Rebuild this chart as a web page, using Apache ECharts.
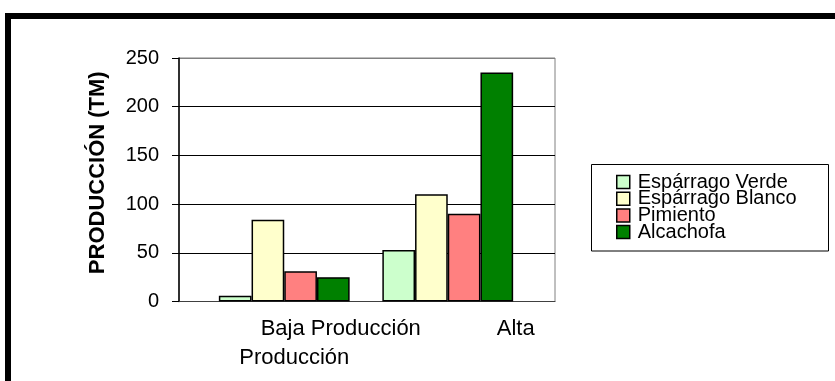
<!DOCTYPE html>
<html><head><meta charset="utf-8">
<script src="https://cdn.jsdelivr.net/npm/echarts@6/dist/echarts.min.js"></script>
<style>html,body{margin:0;padding:0;background:#fff}#c{width:835px;height:381px}</style>
</head><body><div id="c"></div>
<script>
const categories = ['Baja Producción', 'Alta Producción'];
const seriesNames = ['Espárrago Verde', 'Espárrago Blanco', 'Pimiento', 'Alcachofa'];
const verde = [6, 53];
const blanco = [84, 110];
const pimiento = [31, 90];
const alcachofa = [25, 235];
const yTicks = [0, 50, 100, 150, 200, 250];
const yTitle = 'PRODUCCIÓN (TM)';
const colors = ['#CCFFCC', '#FFFFCC', '#FF8080', '#008000'];
const seriesData = [verde, blanco, pimiento, alcachofa];

const FONT = 'Liberation Sans, Arial, sans-serif';
const chart = echarts.init(document.getElementById('c'), null, {renderer: 'canvas'});

const series = seriesNames.map((n, i) => ({
  name: n, type: 'bar', xAxisIndex: 1, yAxisIndex: 1,
  data: seriesData[i], barGap: '0%', barCategoryGap: '20%',
  itemStyle: {color: colors[i], borderColor: '#000', borderWidth: 1.5},
  emphasis: {disabled: true}, animation: false
}));

chart.setOption({
  animation: false,
  backgroundColor: '#fff',
  grid: [
    {left: 179, top: 58, width: 376, height: 243.5, show: true, borderColor: '#808080', borderWidth: 1, backgroundColor: '#fff'},
    {left: 202.5, top: 58, width: 327, height: 243.5}
  ],
  xAxis: [
    {type: 'category', gridIndex: 0, data: categories,
     axisLine: {show: true, lineStyle: {color: '#404040', width: 1}},
     axisTick: {show: false}, axisLabel: {show: false}, splitLine: {show: false}},
    {type: 'category', gridIndex: 1, data: categories,
     axisLine: {show: false}, axisTick: {show: false}, splitLine: {show: false},
     axisLabel: {
       show: true, interval: 0, margin: 13, color: '#000', fontFamily: FONT, fontSize: 22, lineHeight: 29,
       formatter: function (v, idx) {
         if (idx === 0) return '{a|' + v + '}';
         const parts = v.split(' ');
         return '{b|' + parts[0] + '}\n{c|' + parts.slice(1).join(' ') + '}';
       },
       rich: {
         a: {fontFamily: FONT, fontSize: 22, lineHeight: 29, color: '#000', padding: [0, 0, 0, 113]},
         b: {fontFamily: FONT, fontSize: 22, lineHeight: 29, color: '#000', padding: [0, 0, 0, 136]},
         c: {fontFamily: FONT, fontSize: 22, lineHeight: 29, color: '#000', padding: [0, 307, 0, 0]}
       }
     }}
  ],
  yAxis: [
    {type: 'value', gridIndex: 0, min: yTicks[0], max: yTicks[yTicks.length - 1], interval: yTicks[1] - yTicks[0],
     name: yTitle, nameLocation: 'middle', nameRotate: 90, nameGap: 70,
     nameTextStyle: {fontFamily: FONT, fontSize: 22, fontWeight: 'bold', color: '#000', padding: [0, 0, 0, 14]},
     axisLine: {show: true, lineStyle: {color: '#000', width: 1.5}},
     axisTick: {show: true, length: 7, lineStyle: {color: '#000', width: 1}},
     axisLabel: {color: '#000', fontFamily: FONT, fontSize: 20, margin: 20},
     splitLine: {show: true, lineStyle: {color: ['#000', '#000', '#000', '#000', '#000', '#808080'], width: 1}}},
    {type: 'value', gridIndex: 1, min: yTicks[0], max: yTicks[yTicks.length - 1], interval: yTicks[1] - yTicks[0], show: false,
     splitLine: {show: false}}
  ],
  legend: {
    data: seriesNames, orient: 'vertical', left: 616, top: 172, padding: 0, itemGap: -3.3,
    itemWidth: 13, itemHeight: 13, icon: 'rect',
    itemStyle: {borderColor: '#000', borderWidth: 1.5},
    textStyle: {fontFamily: FONT, fontSize: 20, color: '#000', lineHeight: 17, padding: [0, 0, 0, 3]},
    selectedMode: false
  },
  graphic: [
    {type: 'rect', shape: {x: 8, y: 16, width: 900, height: 500}, style: {fill: 'none', stroke: '#000', lineWidth: 6}, silent: true},
    {type: 'rect', shape: {x: 591.5, y: 164.5, width: 237, height: 86.5}, style: {fill: 'none', stroke: '#000', lineWidth: 1}, silent: true}
  ],
  series: series
});
</script></body></html>
